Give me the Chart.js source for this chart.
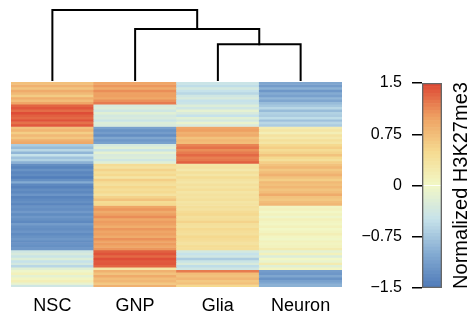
<!DOCTYPE html>
<html>
<head>
<meta charset="utf-8">
<script src="https://cdn.jsdelivr.net/npm/chart.js@4.4.0/dist/chart.umd.min.js"></script>
<style>
  body { margin: 0; background: #fff; }
  #wrap { position: relative; width: 472px; height: 322px; }
  canvas { position: absolute; left: 0; top: 0; }
</style>
</head>
<body>
<div id="wrap">
  <canvas id="dendro" width="472" height="322"></canvas>
  <canvas id="heat" width="472" height="322"></canvas>
  <canvas id="cbar" width="472" height="322"></canvas>
</div>
<script>
const samples = ["NSC", "GNP", "Glia", "Neuron"];

// normalized H3K27me3, one value per row (top to bottom)
const nsc = [
  0.72, 0.85, 0.68, 0.9, 0.78, 0.62, 0.88, 0.75, 0.95,
  1.32, 1.4, 1.28, 1.45, 1.35, 1.3, 1.42, 1.25, 1.38,
  0.7, 0.82, 0.6, 0.78, 0.66, 0.85, 0.92,
  -0.7, -0.85, -0.6, -0.9, -0.5, -0.78, -0.65, -0.95,
  -1.3, -1.4, -1.25, -1.38, -1.32, -1.45, -1.28, -1.0, -1.35, -1.42, -1.3, -1.36, -1.22, -1.4, -1.33, -1.28, -1.38,
  -1.25, -1.3, -1.18, -1.32, -1.2, -1.28, -1.35, -1.15, -1.27, -1.3, -1.22, -1.33, -1.26, -1.19, -1.3, -1.24, -1.28, -1.2,
  -0.4, -0.3, -0.45, -0.25, -0.5, -0.35, -0.6, -0.2,
  -0.05, 0.1, -0.15, 0.05, 0.15, -0.1, -0.4
];
const gnp = [
  0.95, 1.05, 0.9, 1.1, 0.98, 1.0, 0.92, 1.08, 1.2,
  -0.3, -0.25, -0.4, -0.2, -0.35, -0.3, -0.45, -0.25, -0.3,
  -1.1, -1.25, -1.15, -1.3, -1.05, -1.2, -1.1,
  -0.35, -0.2, -0.45, -0.15, -0.3, -0.25, -0.4, -0.2,
  0.45, 0.35, 0.55, 0.4, 0.5, 0.3, 0.6, 0.45, 0.38, 0.52, 0.42, 0.48, 0.35, 0.55, 0.7, 0.45, 0.5,
  0.95, 1.05, 0.9, 1.0, 1.1, 0.92, 1.02, 0.98, 0.88, 1.05, 0.95, 1.0, 0.9, 1.08, 0.96, 1.02, 0.94, 1.05,
  1.35, 1.42, 1.3, 1.45, 1.38, 1.4, 1.32, 0.3,
  0.85, 0.7, 0.9, 0.75, 0.8, 0.65, 0.85
];
const glia = [
  -0.45, -0.55, -0.35, -0.5, -0.6, -0.4, -0.3, -0.5, -0.45,
  -0.25, -0.4, -0.15, -0.3, -0.5, -0.2, -0.35, -0.1, -0.3,
  0.95, 1.0, 0.85, 0.9, 0.7, 0.8, 0.75,
  1.15, 1.25, 1.1, 1.2, 1.3, 1.18, 1.22, 1.35,
  0.3, 0.35, 0.25, 0.4, 0.3, 0.45, 0.35, 0.28, 0.38, 0.32, 0.42, 0.3, 0.36, 0.33, 0.4, 0.3, 0.35,
  0.4, 0.35, 0.45, 0.5, 0.38, 0.42, 0.55, 0.4, 0.36, 0.48, 0.42, 0.38, 0.5, 0.45, 0.4, 0.35, 0.45, 0.42,
  -0.35, -0.5, -0.4, -0.7, -0.45, -0.3, -0.55, -0.4,
  1.2, 0.75, 0.7, 0.8, 0.65, 0.72, 0.5
];
const neuron = [
  -1.05, -1.15, -0.95, -1.2, -1.0, -1.1, -0.9, -1.05, -0.85,
  -0.75, -0.6, -0.85, -0.65, -0.7, -0.55, -0.8, -0.6, -0.7,
  0.2, 0.3, 0.15, 0.35, 0.25, 0.4, 0.3,
  0.5, 0.6, 0.45, 0.55, 0.7, 0.5, 0.4, 0.6,
  0.7, 0.8, 0.65, 0.75, 0.85, 0.7, 0.6, 0.78, 0.72, 0.8, 0.68, 0.75, 0.9, 0.7, 0.65, 0.75, 0.8,
  0.05, 0.1, 0.0, 0.08, -0.05, 0.12, 0.05, 0.02, 0.1, 0.0, 0.06, 0.15, 0.04, -0.02, 0.1, 0.05, 0.08, 0.2,
  -0.15, 0.1, -0.25, 0.0, -0.1, 0.2, -0.2, 0.05,
  -1.15, -1.2, -1.05, -1.25, -1.1, -1.0, -0.95
];

// dendrogram merge heights: Glia+Neuron, GNP+(Glia,Neuron), NSC+rest
const mergeHeights = [0.51, 0.73, 1.0];

const legendTicks = [1.5, 0.75, 0, -0.75, -1.5];
const legendLabels = ["1.5", "0.75", "0", "\u22120.75", "\u22121.5"];

// colour ramp (blue - pale yellow - red)
const stops = [
  [-1.5, [78, 122, 184]],
  [-1.0, [132, 171, 210]],
  [-0.5, [198, 226, 234]],
  [0.0, [242, 247, 198]],
  [0.5, [245, 217, 143]],
  [1.0, [238, 160, 98]],
  [1.5, [220, 68, 50]]
];
function colorFor(v) {
  v = Math.max(-1.5, Math.min(1.5, v));
  for (let i = 0; i < stops.length - 1; i++) {
    const a = stops[i], b = stops[i + 1];
    if (v <= b[0]) {
      const t = (v - a[0]) / (b[0] - a[0]);
      const c = a[1].map((x, k) => Math.round(x + (b[1][k] - x) * t));
      return `rgb(${c[0]},${c[1]},${c[2]})`;
    }
  }
  return "rgb(220,68,50)";
}

const FONT = "'Liberation Sans', Arial, sans-serif";
const cols = [nsc, gnp, glia, neuron];
const nRows = nsc.length;

// heatmap: one floating-bar dataset per row
const heatSets = [];
for (let i = 0; i < nRows; i++) {
  heatSets.push({
    data: cols.map(() => [i, i + 1]),
    backgroundColor: cols.map(c => colorFor(c[i])),
    borderWidth: 0,
    grouped: false,
    barPercentage: 1,
    categoryPercentage: 1
  });
}

new Chart(document.getElementById("heat"), {
  type: "bar",
  data: { labels: samples, datasets: heatSets },
  options: {
    responsive: false,
    animation: false,
    layout: { padding: { left: 11, right: 130, top: 82, bottom: 0 } },
    plugins: { legend: { display: false }, tooltip: { enabled: false } },
    scales: {
      x: {
        grid: { display: false },
        border: { display: false },
        ticks: { color: "#000", font: { family: FONT, size: 18 }, padding: 0 },
        afterFit: s => { s.height = 35; }
      },
      y: { display: false, min: 0, max: nRows, reverse: true }
    }
  }
});

// dendrogram
const [hA, hB, hC] = mergeHeights;
const midA = (2 + 3) / 2, midB = (1 + midA) / 2;
const dendroSets = [
  [{x: 2, y: 0}, {x: 2, y: hA}, {x: 3, y: hA}, {x: 3, y: 0}],
  [{x: 1, y: 0}, {x: 1, y: hB}, {x: midA, y: hB}, {x: midA, y: hA}],
  [{x: 0, y: 0}, {x: 0, y: hC}, {x: midB, y: hC}, {x: midB, y: hB}]
].map(d => ({
  data: d, showLine: true, borderColor: "#000", borderWidth: 2,
  pointRadius: 0, clip: false, borderCapStyle: "square", borderJoinStyle: "miter"
}));

new Chart(document.getElementById("dendro"), {
  type: "scatter",
  data: { datasets: dendroSets },
  options: {
    responsive: false,
    animation: false,
    layout: { padding: { left: 11, right: 130, top: 10, bottom: 242 } },
    plugins: { legend: { display: false }, tooltip: { enabled: false } },
    scales: {
      x: { display: false, min: -0.5, max: 3.5 },
      y: { display: false, min: 0, max: 1 }
    }
  }
});

// colour key
const bands = [];
const nBands = 60;
for (let i = 0; i < nBands; i++) {
  const lo = -1.5 + 3 * i / nBands, hi = -1.5 + 3 * (i + 1) / nBands;
  bands.push({
    data: [[lo, hi]], backgroundColor: colorFor((lo + hi) / 2),
    borderWidth: 0, grouped: false, barPercentage: 1, categoryPercentage: 1, order: 1
  });
}
bands.push({
  data: [[-1.5, 1.5]], backgroundColor: "rgba(0,0,0,0)", borderColor: "#666",
  borderWidth: 1, borderSkipped: false, grouped: false,
  barPercentage: 1, categoryPercentage: 1, order: 0
});

const keyTitle = {
  id: "keyTitle",
  afterDraw(chart) {
    const ctx = chart.ctx, a = chart.chartArea;
    ctx.save();
    ctx.translate(461, (a.top + a.bottom) / 2);
    ctx.rotate(-Math.PI / 2);
    ctx.fillStyle = "#000";
    ctx.font = `20px ${FONT}`;
    ctx.textAlign = "center";
    ctx.textBaseline = "middle";
    ctx.fillText("Normalized H3K27me3", 0, 0);
    ctx.restore();
  }
};

new Chart(document.getElementById("cbar"), {
  type: "bar",
  data: { labels: [""], datasets: bands },
  options: {
    responsive: false,
    animation: false,
    layout: { padding: { left: 340, right: 30, top: 83, bottom: 34 } },
    plugins: { legend: { display: false }, tooltip: { enabled: false } },
    scales: {
      x: { display: false },
      y: {
        min: -1.5, max: 1.5,
        afterBuildTicks: s => { s.ticks = legendTicks.map(v => ({ value: v })); },
        afterFit: s => { s.width = 82; },
        border: { display: false },
        grid: { drawOnChartArea: false, color: "#000", lineWidth: 1.5, tickLength: 10 },
        ticks: {
          color: "#000", font: { family: FONT, size: 16 }, padding: 10,
          callback: (v) => legendLabels[legendTicks.indexOf(v)]
        }
      }
    }
  },
  plugins: [keyTitle]
});
</script>
</body>
</html>
